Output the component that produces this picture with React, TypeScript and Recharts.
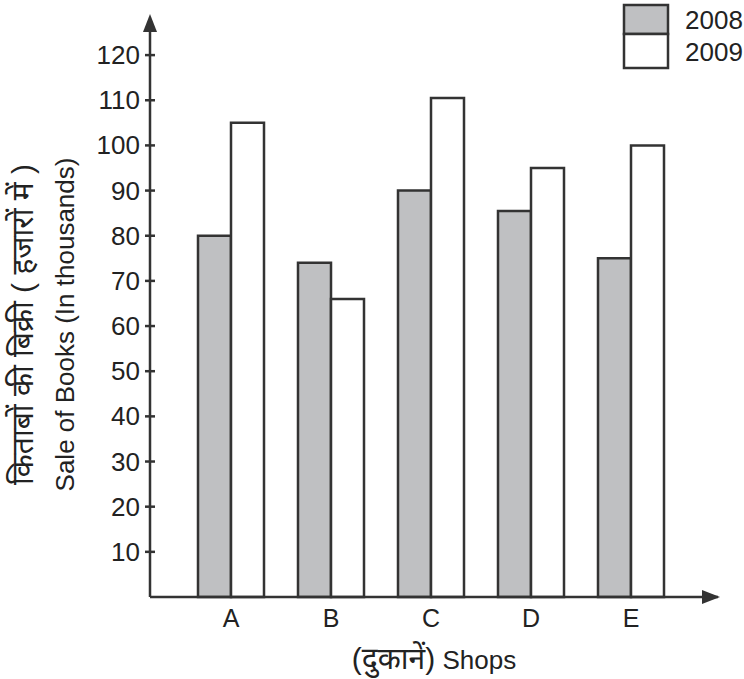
import React from 'react';
import { BarChart, Bar, XAxis, YAxis, Legend } from 'recharts';

const shops = ['A', 'B', 'C', 'D', 'E'];
const sales2008 = [80, 74, 90, 85.5, 75];
const sales2009 = [105, 66, 110.5, 95, 100];
const yTicks = [10, 20, 30, 40, 50, 60, 70, 80, 90, 100, 110, 120];

const chartData = shops.map((shop, i) => ({
  shop,
  y2008: sales2008[i],
  y2009: sales2009[i],
}));

const FONT = '"Liberation Sans", Arial, "Noto Sans", "Noto Sans Devanagari", sans-serif';
const INK = '#333';

const YTick = (props: any) => {
  const { x, y, payload } = props;
  return (
    <g>
      <line x1={x - 5} y1={y} x2={x + 5} y2={y} stroke={INK} strokeWidth={2.5} />
      <text x={x - 10} y={y + 9} textAnchor="end" fontSize={26} fill="#222" fontFamily={FONT}>
        {payload.value}
      </text>
    </g>
  );
};

const XTick = (props: any) => {
  const { x, y, payload } = props;
  return (
    <text x={x} y={y + 30} textAnchor="middle" fontSize={25} fill="#222" fontFamily={FONT}>
      {payload.value}
    </text>
  );
};

const YTitle = (props: any) => {
  const { viewBox } = props;
  const cy = viewBox.y + viewBox.height / 2 + 12;
  const hx = viewBox.x + 22;
  const ex = viewBox.x + 65;
  return (
    <g fontFamily={FONT} fill="#222">
      <text x={hx} y={cy} fontSize={30} textAnchor="middle" dominantBaseline="central" transform={`rotate(-90, ${hx}, ${cy})`}>
        किताबों की बिक्री ( हजारों में )
      </text>
      <text x={ex} y={cy} fontSize={26} textAnchor="middle" dominantBaseline="central" transform={`rotate(-90, ${ex}, ${cy})`}>
        Sale of Books (In thousands)
      </text>
    </g>
  );
};

const XTitle = (props: any) => {
  const { viewBox } = props;
  const cx = viewBox.x + viewBox.width / 2;
  const by = viewBox.y + viewBox.height - 10;
  return (
    <text x={cx} y={by} textAnchor="middle" fontFamily={FONT} fill="#222" fontSize={26}>
      <tspan fontSize={30}>(दुकानें)</tspan> Shops
    </text>
  );
};

const renderLegend = (props: any) => {
  const { payload } = props;
  const items = payload || [];
  return (
    <svg width={122} height={72}>
      {items.map((item: any, i: number) => {
        const top = i === 0 ? 5 : 34;
        const h = i === 0 ? 29 : 34;
        return (
          <g key={item.value}>
            <rect x={2} y={top} width={44} height={h} fill={item.color} stroke={INK} strokeWidth={2.5} />
            <text x={63} y={i === 0 ? 29 : 61} fontSize={26} fill="#222" fontFamily={FONT}>
              {item.value}
            </text>
          </g>
        );
      })}
    </svg>
  );
};

export default function App() {
  return (
    <div style={{ position: 'absolute', left: 0, top: 0, width: 744, height: 679, background: '#fff' }}>
      <BarChart
        width={744}
        height={679}
        data={chartData}
        margin={{ top: 28, right: 26, bottom: 0, left: 0 }}
        barCategoryGap="17%"
        barGap={0}
      >
        <XAxis
          dataKey="shop"
          height={82}
          padding={{ left: 31, right: 37 }}
          axisLine={{ stroke: INK, strokeWidth: 2.5 }}
          tickLine={false}
          tickSize={0}
          tickMargin={0}
          tick={<XTick />}
          label={{ content: XTitle }}
        />
        <YAxis
          width={150}
          domain={[0, 126]}
          ticks={yTicks}
          interval={0}
          axisLine={{ stroke: INK, strokeWidth: 2.5 }}
          tickLine={false}
          tickSize={0}
          tickMargin={0}
          tick={<YTick />}
          label={{ content: YTitle }}
        />
        <Legend
          layout="horizontal"
          verticalAlign="middle"
          wrapperStyle={{ top: 0, left: 622, width: 122 }}
          content={renderLegend}
        />
        <Bar dataKey="y2008" name="2008" fill="#bfc0c2" stroke={INK} strokeWidth={2.5} isAnimationActive={false} />
        <Bar dataKey="y2009" name="2009" fill="#ffffff" stroke={INK} strokeWidth={2.5} isAnimationActive={false} />
      </BarChart>
      <svg width={744} height={679} style={{ position: 'absolute', left: 0, top: 0, pointerEvents: 'none' }}>
        <polygon points="150,14 143,32 157,32" fill={INK} />
        <polygon points="720,597 702,590 702,604" fill={INK} />
      </svg>
    </div>
  );
}
